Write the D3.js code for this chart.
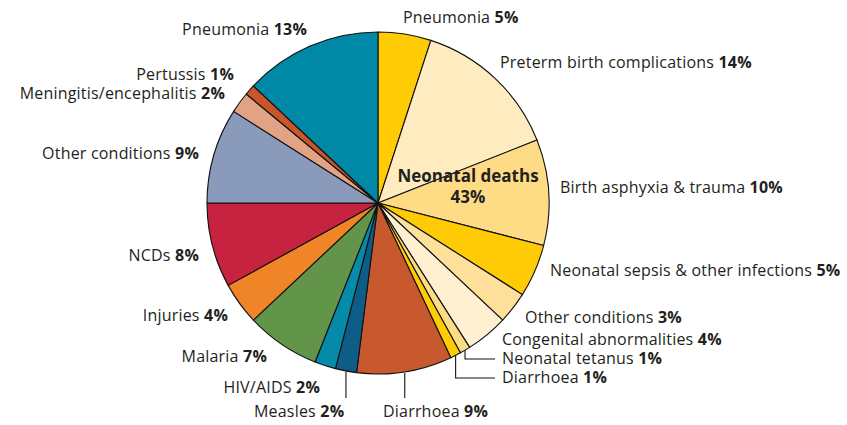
<!DOCTYPE html>
<html>
<head>
<meta charset="utf-8">
<script src="https://cdn.jsdelivr.net/npm/d3@7"></script>
<style>
  html, body { margin: 0; padding: 0; background: #fff; }
  text { font-family: "Open Sans", sans-serif; fill: #231f20; }
</style>
</head>
<body>
<div id="chart"></div>
<script>
// causes of death, clockwise from 12 o'clock
var causes = ["Pneumonia", "Preterm birth complications", "Birth asphyxia & trauma",
    "Neonatal sepsis & other infections", "Other conditions", "Congenital abnormalities",
    "Neonatal tetanus", "Diarrhoea", "Diarrhoea", "Measles", "HIV/AIDS", "Malaria",
    "Injuries", "NCDs", "Other conditions", "Meningitis/encephalitis", "Pertussis", "Pneumonia"];
var shares = [5, 14, 10, 5, 3, 4, 1, 1, 9, 2, 2, 7, 4, 8, 9, 2, 1, 13];
var colors = ["#ffcb05", "#feebc0", "#fedc86", "#ffcb05", "#fee09a", "#fff0d2",
    "#fedc86", "#ffcb05", "#c8582d", "#0d5d86", "#058ba9", "#62954a",
    "#f08527", "#c72341", "#8a9aba", "#e1a383", "#c9552a", "#0088a7"];
var centerTitle = "Neonatal deaths";
var centerShare = "43%";

var width = 847, height = 425;
var cx = 378, cy = 203, radius = 171;

// label placement: [x, baseline y, anchor, leader type]
var labelPos = [
    [403, 23, "start"], [500, 68, "start"], [560, 193, "start"], [550, 276, "start"],
    [525, 323, "start"], [502, 345, "start"], [502, 364, "start", "elbow"], [502, 383, "start", "elbow"],
    [383, 417, "start", "drop"], [254, 417, "start", "drop"], [320, 393, "end"], [267, 362, "end"],
    [228, 321, "end"], [199, 261, "end"], [199, 159, "end"], [225, 99, "end"],
    [234, 80, "end"], [307, 35, "end"]
];

var svg = d3.select("#chart").append("svg")
    .attr("width", width)
    .attr("height", height);

var pie = d3.pie().sort(null).value(function (d) { return d; });
var arcs = pie(shares);
var arc = d3.arc().innerRadius(0).outerRadius(radius);

var g = svg.append("g").attr("transform", "translate(" + cx + "," + cy + ")");

g.selectAll("path.slice")
    .data(arcs)
    .enter().append("path")
    .attr("class", "slice")
    .attr("d", arc)
    .attr("fill", function (d, i) { return colors[i]; })
    .attr("stroke", "#111")
    .attr("stroke-width", 1.1)
    .attr("stroke-linejoin", "round");

// leader lines
arcs.forEach(function (d, i) {
    var lp = labelPos[i];
    if (!lp[3]) return;
    var a = (d.startAngle + d.endAngle) / 2;
    var px = cx + radius * Math.sin(a), py = cy - radius * Math.cos(a);
    var pts;
    if (lp[3] === "elbow") {
        var ly = lp[1] - 5;
        pts = [[px, py], [px, ly], [lp[0] - 7, ly]];
    } else {
        pts = [[px, py + 1], [px, lp[1] - 19]];
    }
    svg.append("path")
        .attr("d", d3.line()(pts))
        .attr("fill", "none")
        .attr("stroke", "#111")
        .attr("stroke-width", 1.1);
});

// labels
causes.forEach(function (name, i) {
    var lp = labelPos[i];
    var t = svg.append("text")
        .attr("x", lp[0])
        .attr("y", lp[1])
        .attr("text-anchor", lp[2])
        .attr("font-size", 16)
        .attr("letter-spacing", 0.2);
    t.append("tspan").text(name + " ");
    t.append("tspan").attr("font-weight", 700).text(shares[i] + "%");
});

// centre label for the neonatal group
svg.append("text")
    .attr("x", 468).attr("y", 182)
    .attr("text-anchor", "middle")
    .attr("font-size", 17)
    .attr("font-weight", 700)
    .text(centerTitle);
svg.append("text")
    .attr("x", 468).attr("y", 203)
    .attr("text-anchor", "middle")
    .attr("font-size", 17)
    .attr("font-weight", 700)
    .text(centerShare);
</script>
</body>
</html>
